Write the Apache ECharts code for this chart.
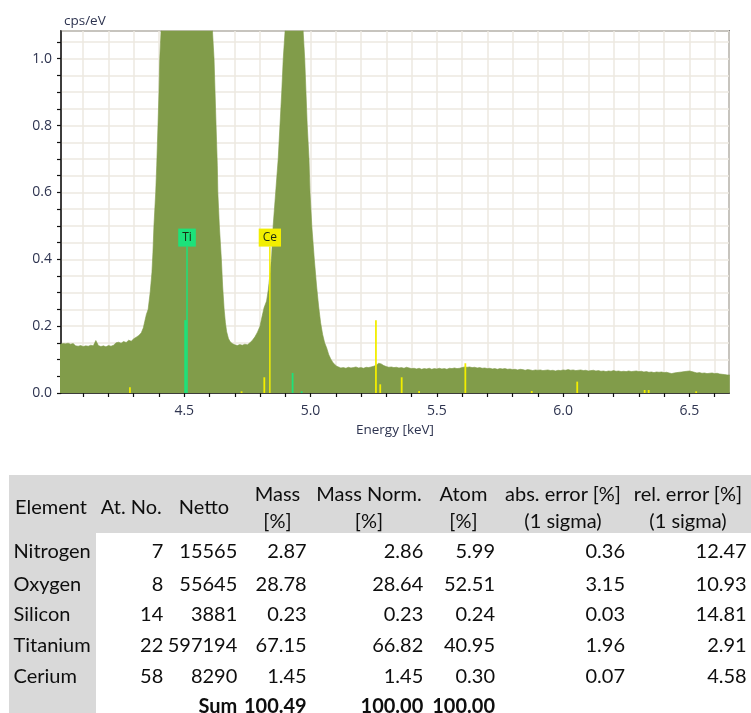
<!DOCTYPE html>
<html>
<head>
<meta charset="utf-8">
<script src="https://cdn.jsdelivr.net/npm/echarts@6/dist/echarts.min.js"></script>
<style>
  html, body { margin: 0; padding: 0; background: #fff; }
  #wrap { position: relative; width: 751px; height: 713px; overflow: hidden; }
  #chart { position: absolute; left: 0; top: 0; width: 751px; height: 713px; }
  #table { position: absolute; left: 0; top: 0; width: 751px; height: 713px; font-family: Lato, sans-serif; font-size: 20px; color: #0e0e0e; }
  .cell { position: absolute; white-space: nowrap; line-height: 24px; height: 24px; }
  .bg { position: absolute; background: #d9d9d9; }
</style>
</head>
<body>
<div id="wrap">
  <div id="chart"></div>
  <div id="table"></div>
</div>
<script>
// ---------------- spectrum data: [energy keV, cps/eV] ----------------
const spectrum = [
  [4.00,0.147],[4.01,0.146],[4.02,0.148],[4.03,0.147],[4.04,0.149],[4.05,0.146],[4.06,0.148],[4.07,0.141],
  [4.08,0.140],[4.09,0.142],[4.10,0.139],[4.11,0.141],[4.12,0.140],[4.13,0.143],[4.14,0.141],[4.15,0.157],
  [4.16,0.142],[4.17,0.139],[4.18,0.141],[4.19,0.138],[4.20,0.142],[4.21,0.140],[4.22,0.143],[4.23,0.150],
  [4.24,0.152],[4.25,0.149],[4.26,0.154],[4.27,0.151],[4.28,0.158],[4.29,0.155],[4.30,0.162],[4.31,0.167],
  [4.32,0.172],[4.33,0.180],[4.338,0.195],[4.350,0.235],[4.357,0.250],[4.365,0.300],[4.372,0.360],[4.376,0.420],
  [4.380,0.500],[4.387,0.600],[4.391,0.680],[4.396,0.800],[4.400,0.900],[4.403,1.000],[4.408,1.080],
  [4.42,1.60],[4.45,3.50],[4.51,6.00],[4.57,3.50],[4.60,1.60],
  [4.612,1.080],[4.618,1.000],[4.622,0.900],[4.626,0.800],[4.631,0.680],[4.633,0.600],[4.639,0.500],
  [4.647,0.400],[4.652,0.320],[4.658,0.250],[4.663,0.210],[4.668,0.183],[4.675,0.163],[4.682,0.153],
  [4.69,0.148],[4.70,0.144],[4.71,0.142],[4.72,0.145],[4.73,0.143],[4.74,0.146],[4.75,0.144],[4.76,0.150],
  [4.77,0.158],[4.78,0.168],[4.79,0.182],[4.80,0.200],[4.807,0.225],[4.816,0.255],[4.826,0.275],[4.833,0.310],
  [4.840,0.360],[4.846,0.410],[4.852,0.500],[4.862,0.600],[4.872,0.700],[4.879,0.800],[4.886,0.900],
  [4.892,1.000],[4.899,1.080],
  [4.91,1.50],[4.935,2.30],[4.96,1.50],
  [4.971,1.080],[4.977,1.000],[4.982,0.900],[4.987,0.800],[4.994,0.700],[4.998,0.600],[5.005,0.500],
  [5.015,0.400],[5.024,0.320],[5.032,0.260],[5.040,0.210],[5.048,0.175],[5.056,0.150],[5.064,0.135],
  [5.072,0.115],[5.080,0.102],[5.088,0.092],[5.096,0.085],[5.104,0.080],
  [5.11,0.077],[5.12,0.075],[5.13,0.076],[5.14,0.074],[5.15,0.077],[5.16,0.075],[5.17,0.076],[5.18,0.078],
  [5.19,0.075],[5.20,0.076],[5.21,0.074],[5.22,0.077],[5.23,0.076],[5.24,0.078],[5.25,0.080],[5.26,0.083],
  [5.27,0.089],[5.28,0.087],[5.29,0.082],[5.30,0.079],[5.31,0.077],[5.32,0.078],[5.33,0.076],[5.34,0.077],
  [5.35,0.075],[5.36,0.076],[5.37,0.074],[5.38,0.077],[5.39,0.075],[5.40,0.073],[5.41,0.074],[5.42,0.072],
  [5.43,0.074],[5.44,0.071],[5.45,0.073],[5.46,0.072],[5.47,0.074],[5.48,0.071],[5.49,0.073],[5.50,0.072],
  [5.51,0.074],[5.52,0.072],[5.53,0.073],[5.54,0.071],[5.55,0.074],[5.56,0.073],[5.57,0.075],[5.58,0.073],
  [5.59,0.074],[5.60,0.076],[5.61,0.078],[5.62,0.077],[5.63,0.078],[5.64,0.076],[5.65,0.077],[5.66,0.075],
  [5.67,0.076],[5.68,0.074],[5.69,0.075],[5.70,0.073],[5.71,0.074],[5.72,0.072],[5.73,0.073],[5.74,0.071],
  [5.75,0.073],[5.76,0.072],[5.77,0.073],[5.78,0.071],[5.79,0.072],[5.80,0.070],[5.81,0.071],[5.82,0.069],
  [5.83,0.071],[5.84,0.070],[5.85,0.068],[5.86,0.070],[5.87,0.069],[5.88,0.067],[5.89,0.069],[5.90,0.068],
  [5.91,0.069],[5.92,0.067],[5.93,0.068],[5.94,0.069],[5.95,0.067],[5.96,0.068],[5.97,0.066],[5.98,0.068],
  [5.99,0.067],[6.00,0.069],[6.01,0.068],[6.02,0.070],[6.03,0.068],[6.04,0.069],[6.05,0.067],[6.06,0.068],
  [6.07,0.069],[6.08,0.067],[6.09,0.068],[6.10,0.066],[6.11,0.067],[6.12,0.068],[6.13,0.066],[6.14,0.067],
  [6.15,0.065],[6.16,0.066],[6.17,0.064],[6.18,0.066],[6.19,0.065],[6.20,0.067],[6.21,0.065],[6.22,0.066],
  [6.23,0.064],[6.24,0.065],[6.25,0.064],[6.26,0.066],[6.27,0.064],[6.28,0.065],[6.29,0.066],[6.30,0.064],
  [6.31,0.065],[6.32,0.063],[6.33,0.064],[6.34,0.062],[6.35,0.063],[6.36,0.061],[6.37,0.063],[6.38,0.062],
  [6.39,0.063],[6.40,0.061],[6.41,0.062],[6.42,0.060],[6.43,0.058],[6.44,0.060],[6.45,0.061],[6.46,0.062],
  [6.47,0.063],[6.48,0.064],[6.49,0.065],[6.50,0.066],[6.51,0.064],[6.52,0.062],[6.53,0.060],[6.54,0.061],
  [6.55,0.059],[6.56,0.060],[6.57,0.058],[6.58,0.059],[6.59,0.060],[6.60,0.058],[6.61,0.059],[6.62,0.057],
  [6.63,0.056],[6.64,0.055],[6.65,0.054],[6.66,0.054]
];

// element line markers
const lineEnergy = [4.285, 4.505, 4.727, 4.817, 4.929, 4.965, 5.259, 5.276, 5.361, 5.430, 5.613, 5.876, 6.056, 6.323, 6.339, 6.527];
const lineHeight = [0.017, 0.218, 0.005, 0.047, 0.060, 0.005, 0.218, 0.026, 0.047, 0.006, 0.089, 0.006, 0.034, 0.009, 0.009, 0.005];
const lineElement = ['Ce','Ti','Ce','Ce','Ti','Ti','Ce','Ce','Ce','Ce','Ce','Ce','Ce','Ce','Ce','Ce'];

// element labels
const labelElements = ['Ti', 'Ce'];
const labelEnergy = [4.511, 4.839];
const labelHeight = [0.438, 0.438];

// axis
const xLabelStep = 0.5;
const yLabelStep = 0.2;

// ---------------- table data ----------------
const tableHeaders = [['Element'], ['At. No.'], ['Netto'], ['Mass', '[%]'], ['Mass Norm.', '[%]'], ['Atom', '[%]'], ['abs. error [%]', '(1 sigma)'], ['rel. error [%]', '(1 sigma)']];
const elements = ['Nitrogen', 'Oxygen', 'Silicon', 'Titanium', 'Cerium'];
const atNo = ['7', '8', '14', '22', '58'];
const netto = ['15565', '55645', '3881', '597194', '8290'];
const mass = ['2.87', '28.78', '0.23', '67.15', '1.45'];
const massNorm = ['2.86', '28.64', '0.23', '66.82', '1.45'];
const atom = ['5.99', '52.51', '0.24', '40.95', '0.30'];
const absErr = ['0.36', '3.15', '0.03', '1.96', '0.07'];
const relErr = ['12.47', '10.93', '14.81', '2.91', '4.58'];
const sumRow = ['', '', 'Sum', '100.49', '100.00', '100.00', '', ''];

const elementColors = { Ti: '#1de27a', Ce: '#f2ee00' };

// ---------------- chart ----------------
const chart = echarts.init(document.getElementById('chart'), null, { renderer: 'canvas' });
const textColor = '#2e3450';

chart.setOption({
  animation: false,
  backgroundColor: '#ffffff',
  grid: { left: 61, top: 31, width: 668, height: 362, show: true, borderColor: '#222', borderWidth: 1.5, backgroundColor: 'transparent' },
  xAxis: {
    type: 'value', min: 4.012, max: 6.657, splitNumber: 26,
    name: 'Energy [keV]', nameLocation: 'middle', nameGap: 30,
    nameTextStyle: { fontFamily: 'Open Sans', fontSize: 13.5, color: textColor },
    axisLine: { show: true, onZero: false, lineStyle: { color: '#111', width: 1.5 } },
    axisTick: { show: true, length: 4, lineStyle: { color: '#111', width: 1.2 } },
    axisLabel: {
      margin: 11, fontFamily: 'Open Sans', fontSize: 14, color: textColor, showMinLabel: false, showMaxLabel: false,
      formatter: v => (Math.abs(v / xLabelStep - Math.round(v / xLabelStep)) < 1e-6 ? v.toFixed(1) : '')
    },
    splitLine: { show: true, lineStyle: { color: '#ece9e1', width: 1.5 } }
  },
  yAxis: {
    type: 'value', min: 0, max: 1.083, interval: 0.05,
    name: 'cps/eV', nameLocation: 'end', nameGap: 3,
    nameTextStyle: { fontFamily: 'Open Sans', fontSize: 13.5, color: textColor, align: 'left', padding: [0, 0, 0, 3] },
    axisLine: { show: true, lineStyle: { color: '#111', width: 1.5 } },
    axisTick: { show: true, length: 4, lineStyle: { color: '#111', width: 1.2 } },
    axisLabel: {
      margin: 9, fontFamily: 'Open Sans', fontSize: 14, color: textColor, showMaxLabel: false,
      formatter: v => (Math.abs(v / yLabelStep - Math.round(v / yLabelStep)) < 1e-6 ? v.toFixed(1) : '')
    },
    splitLine: { show: true, lineStyle: { color: '#ece9e1', width: 1.5 } }
  },
  series: [
    {
      type: 'line', data: spectrum, symbol: 'none', clip: true, sampling: 'none',
      lineStyle: { width: 0.6, color: '#7f9a48' },
      areaStyle: { color: '#819c4a', opacity: 1 },
      z: 2
    },
    {
      type: 'custom', clip: true, z: 3,
      data: lineEnergy.map((e, i) => [e, lineHeight[i], lineElement[i]]),
      renderItem: (params, api) => {
        const e = api.value(0), h = api.value(1);
        const el = lineElement[params.dataIndex];
        const p0 = api.coord([e, 0]);
        const p1 = api.coord([e, h]);
        const w = el === 'Ti' && h > 0.1 ? 2.5 : 1.8;
        return { type: 'rect', shape: { x: p0[0] - w / 2, y: p1[1], width: w, height: p0[1] - p1[1] }, style: { fill: elementColors[el] } };
      }
    },
    {
      type: 'custom', clip: false, z: 4,
      data: labelElements.map((n, i) => [labelEnergy[i], labelHeight[i], n]),
      renderItem: (params, api) => {
        const i = params.dataIndex;
        const name = labelElements[i];
        const p0 = api.coord([labelEnergy[i], 0]);
        const p1 = api.coord([labelEnergy[i], labelHeight[i]]);
        const col = elementColors[name];
        return {
          type: 'group',
          children: [
            { type: 'rect', shape: { x: p0[0] - 0.75, y: p1[1], width: 1.5, height: p0[1] - p1[1] }, style: { fill: col } },
            { type: 'text', x: p1[0], y: p1[1], style: { text: name, fill: '#1a2a10', font: '12px "Open Sans"', align: 'center', verticalAlign: 'bottom', backgroundColor: col, padding: [3, 4, 3, 4] } }
          ]
        };
      }
    }
  ]
});

// ---------------- table (HTML text) ----------------
const tbl = document.getElementById('table');
function addBg(l, t, w, h) { const d = document.createElement('div'); d.className = 'bg'; Object.assign(d.style, { left: l + 'px', top: t + 'px', width: w + 'px', height: h + 'px' }); tbl.appendChild(d); }
addBg(9, 475, 742, 58);
addBg(9, 533, 86.7, 180);

// layout (pixel positions)
const colRight = [null, 163.3, 237.3, 306.7, 423.3, 495, 625, 746.7];
const headCenter = [52, 131.3, 204, 277.5, 369, 463.5, 563, 688];
const headLines1 = 506.7, headLineA = 493.3, headLineB = 520;
const rowCenters = [550, 583.5, 613.5, 644, 675.8, 705.5];
const textOffset = 12.5;

function addCell(text, y, opts) {
  const d = document.createElement('div');
  d.className = 'cell';
  d.textContent = text;
  d.style.top = (y - textOffset) + 'px';
  if (opts.right != null) { d.style.left = (opts.right - 300) + 'px'; d.style.width = '300px'; d.style.textAlign = 'right'; }
  else if (opts.center != null) { d.style.left = (opts.center - 150) + 'px'; d.style.width = '300px'; d.style.textAlign = 'center'; }
  else { d.style.left = opts.left + 'px'; }
  if (opts.bold) d.style.fontWeight = 'bold';
  tbl.appendChild(d);
}

tableHeaders.forEach((h, c) => {
  if (c === 0) { addCell(h[0], headLines1, { left: 15 }); return; }
  if (h.length === 1) addCell(h[0], headLines1, { center: headCenter[c] });
  else { addCell(h[0], headLineA, { center: headCenter[c] }); addCell(h[1], headLineB, { center: headCenter[c] }); }
});

const cols = [elements, atNo, netto, mass, massNorm, atom, absErr, relErr];
elements.forEach((_, r) => {
  cols.forEach((col, c) => {
    if (c === 0) addCell(col[r], rowCenters[r], { left: 13.5 });
    else addCell(col[r], rowCenters[r], { right: colRight[c] });
  });
});
sumRow.forEach((t, c) => { if (t) addCell(t, rowCenters[5], { right: colRight[c], bold: true }); });
</script>
</body>
</html>
